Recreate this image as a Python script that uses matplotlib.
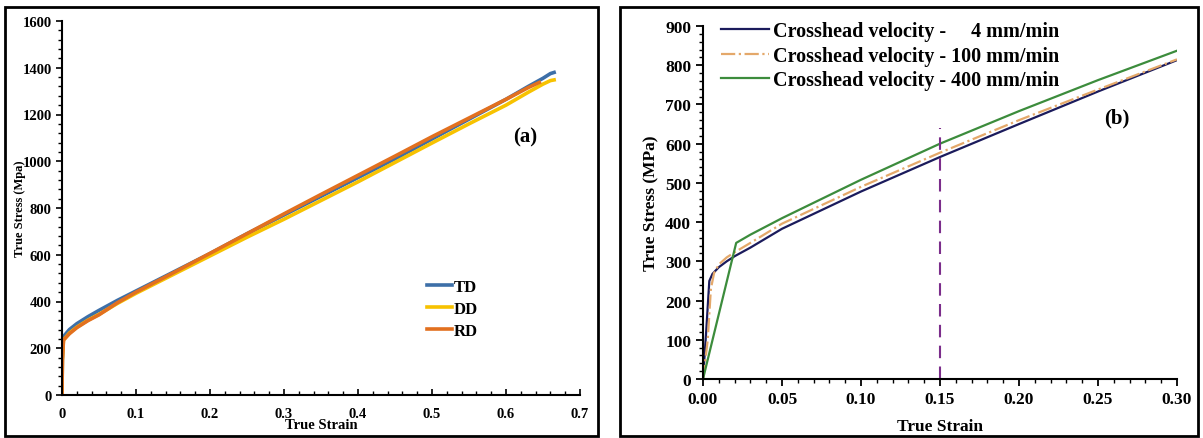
import numpy as np
import matplotlib
matplotlib.use("Agg")
import matplotlib.pyplot as plt
from matplotlib.patches import Rectangle
from matplotlib.ticker import MultipleLocator

# ---- panel (a) data: true stress-strain in three directions
strain_td = [0, 0.0005, 0.002, 0.01, 0.02, 0.035, 0.05, 0.075, 0.1, 0.15, 0.2, 0.25,
             0.3, 0.35, 0.4, 0.45, 0.5, 0.55, 0.6, 0.63, 0.65, 0.66, 0.665]
stress_td = [0, 150, 250, 280, 305, 335, 362, 405, 445, 525, 605, 690,
             770, 850, 930, 1010, 1095, 1180, 1265, 1320, 1355, 1375, 1380]
strain_dd = strain_td
stress_dd = [0, 150, 235, 265, 290, 320, 345, 392, 435, 515, 595, 675,
             752, 832, 912, 995, 1078, 1160, 1240, 1295, 1330, 1345, 1348]
strain_rd = [0, 0.0005, 0.002, 0.01, 0.02, 0.035, 0.05, 0.075, 0.1, 0.15, 0.2, 0.25,
             0.3, 0.35, 0.4, 0.45, 0.5, 0.55, 0.6, 0.63, 0.645]
stress_rd = [0, 150, 235, 262, 288, 318, 343, 395, 440, 522, 606, 690,
             775, 858, 940, 1022, 1105, 1185, 1265, 1315, 1337]

# ---- panel (b) data: crosshead velocities
strain_v4 = [0, 0.002, 0.004, 0.006, 0.01, 0.015, 0.02, 0.03, 0.05, 0.1, 0.15, 0.2, 0.25, 0.3]
stress_v4 = [0, 120, 250, 268, 285, 300, 313, 335, 383, 478, 566, 650, 733, 813]
strain_v100 = [0, 0.003, 0.005, 0.007, 0.01, 0.015, 0.02, 0.03, 0.05, 0.1, 0.15, 0.2, 0.25, 0.3]
stress_v100 = [0, 100, 230, 270, 292, 310, 323, 347, 396, 490, 577, 660, 738, 815]
strain_v400 = [0, 0.021, 0.03, 0.05, 0.1, 0.15, 0.2, 0.25, 0.3]
stress_v400 = [0, 347, 368, 410, 508, 600, 683, 762, 837]
vline_x = 0.15
vline_top = 640

plt.rcParams['font.family'] = ['Liberation Serif', 'DejaVu Serif']
plt.rcParams['font.weight'] = 'bold'

fig = plt.figure(figsize=(12.03, 4.39), dpi=100)

# frames around the two panels
fig.patches.append(Rectangle((5 / 1203, 1 - 437 / 439), 593 / 1203, 429 / 439,
                             transform=fig.transFigure, fill=False, lw=2, color='black'))
fig.patches.append(Rectangle((620 / 1203, 1 - 437 / 439), 578 / 1203, 429 / 439,
                             transform=fig.transFigure, fill=False, lw=2, color='black'))

# ---------------- panel (a)
ax1 = fig.add_axes([62 / 1203, 1 - 396 / 439, 518 / 1203, 374 / 439])
ax1.plot(strain_td, stress_td, color='#3d6fa8', lw=2.6, label='TD')
ax1.plot(strain_dd, stress_dd, color='#f7c200', lw=2.6, label='DD')
ax1.plot(strain_rd, stress_rd, color='#e2701f', lw=2.6, label='RD')
ax1.set_xlim(0, 0.7)
ax1.set_ylim(0, 1600)
ax1.xaxis.set_minor_locator(MultipleLocator(0.02))
ax1.yaxis.set_major_locator(MultipleLocator(200))
ax1.yaxis.set_minor_locator(MultipleLocator(40))
ax1.set_xticks(np.arange(0, 0.71, 0.1))
ax1.set_xticklabels(['0', '0.1', '0.2', '0.3', '0.4', '0.5', '0.6', '0.7'])
ax1.tick_params(axis='x', direction='in', labelsize=10.5, length=4, width=1.2, pad=9)
ax1.tick_params(axis='x', which='minor', direction='in', length=3, width=1)
ax1.tick_params(axis='y', direction='out', labelsize=10.5, length=4, width=1.2)
ax1.tick_params(axis='y', which='minor', direction='out', length=3, width=1)
for s in ['top', 'right']:
    ax1.spines[s].set_visible(False)
for s in ['left', 'bottom']:
    ax1.spines[s].set_linewidth(1.5)
ax1.set_xlabel('True Strain', fontsize=10.5, fontweight='bold', labelpad=-2)
ax1.set_ylabel('True Stress (Mpa)', fontsize=9, fontweight='bold', labelpad=-3)
ax1.text(0.61, 1108, '(a)', fontsize=15, fontweight='bold', va='center')
leg1 = ax1.legend(loc='upper left', bbox_to_anchor=(0.675, 0.35), frameon=False,
                  handlelength=1.5, handletextpad=0.1, labelspacing=0.35,
                  prop={'size': 12, 'weight': 'bold'})

# ---------------- panel (b)
ax2 = fig.add_axes([703 / 1203, 1 - 380 / 439, 474 / 1203, 353 / 439])
ax2.plot(strain_v4, stress_v4, color='#1b1b5c', lw=1.6,
         label='Crosshead velocity -     4 mm/min')
ax2.plot(strain_v100, stress_v100, color='#e4a86a', lw=1.6, ls='-.',
         label='Crosshead velocity - 100 mm/min')
ax2.plot(strain_v400, stress_v400, color='#3c8c3c', lw=1.6,
         label='Crosshead velocity - 400 mm/min')
ax2.plot([vline_x, vline_x], [0, vline_top], color='#7b2d8b', lw=1.5, ls=(0, (6, 4)))
ax2.set_xlim(0, 0.3)
ax2.set_ylim(0, 900)
ax2.xaxis.set_minor_locator(MultipleLocator(0.01))
ax2.yaxis.set_major_locator(MultipleLocator(100))
ax2.yaxis.set_minor_locator(MultipleLocator(20))
ax2.set_xticks(np.arange(0, 0.301, 0.05))
ax2.set_xticklabels(['0.00', '0.05', '0.10', '0.15', '0.20', '0.25', '0.30'])
ax2.tick_params(axis='both', direction='out', labelsize=12.5, length=5, width=1.3)
ax2.tick_params(axis='both', which='minor', direction='out', length=3, width=1)
for s in ['top', 'right']:
    ax2.spines[s].set_visible(False)
for s in ['left', 'bottom']:
    ax2.spines[s].set_linewidth(1.5)
ax2.set_xlabel('True Strain', fontsize=12.5, fontweight='bold', labelpad=8)
ax2.set_ylabel('True Stress (MPa)', fontsize=12.5, fontweight='bold', labelpad=4)
ax2.text(0.262, 668, '(b)', fontsize=15, fontweight='bold', va='center', ha='center')
leg2 = ax2.legend(loc='upper left', bbox_to_anchor=(0.0, 1.065), frameon=False,
                  handlelength=2.4, handletextpad=0.2, labelspacing=0.22,
                  prop={'size': 14.5, 'weight': 'bold'})

fig.savefig('out.png', dpi=100)
